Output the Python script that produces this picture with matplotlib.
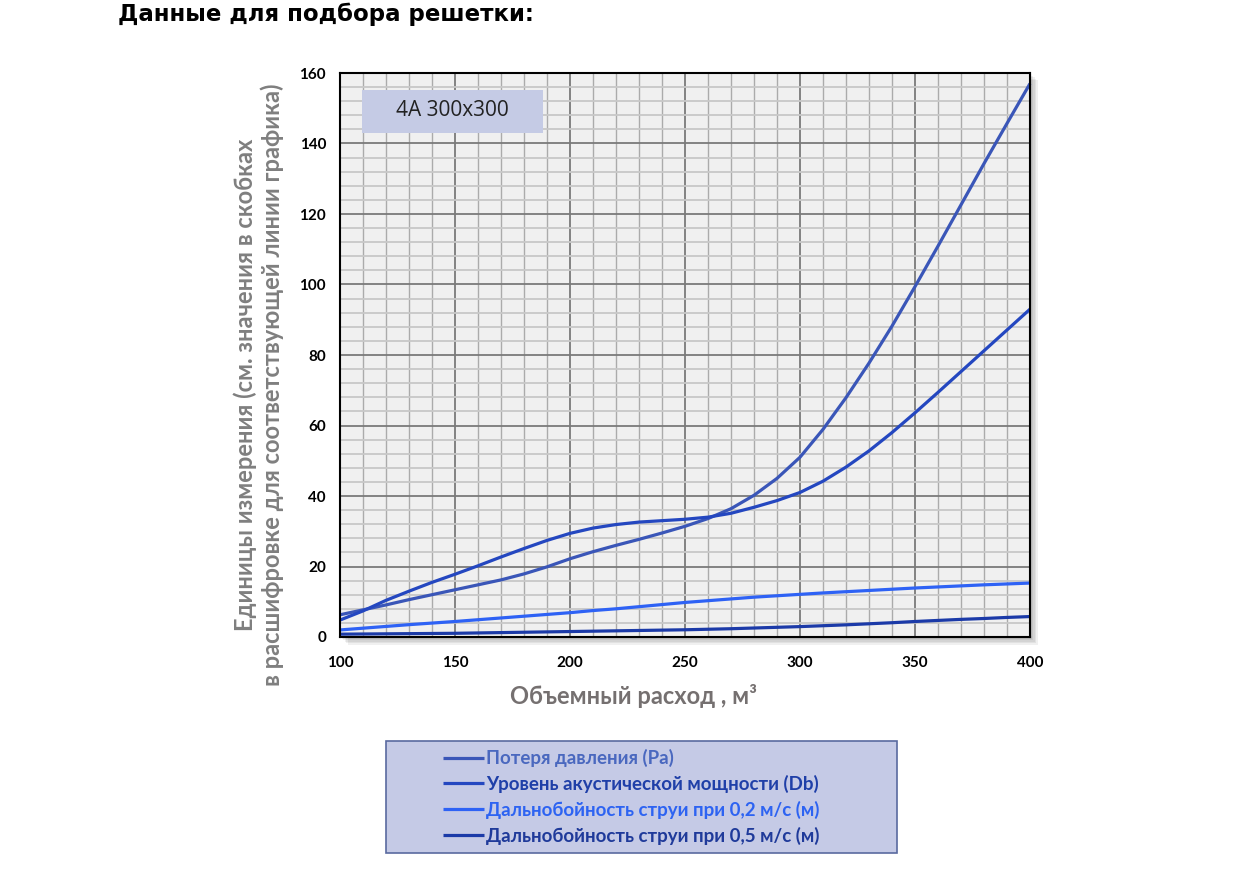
import matplotlib.pyplot as plt
from matplotlib.patches import Rectangle
from matplotlib.ticker import MultipleLocator

# Объемный расход (ось X)
flow = [100, 110, 120, 130, 140, 150, 160, 170, 180, 190, 200,
        210, 220, 230, 240, 250, 260, 270, 280, 290, 300,
        310, 320, 330, 340, 350, 360, 370, 380, 390, 400]

# Значения кривых
pressure = [6.3, 7.7, 9.1, 10.6, 12.0, 13.4, 14.8, 16.2, 17.9, 19.9, 22.2,
            24.2, 26.0, 27.7, 29.5, 31.4, 33.6, 36.4, 40.2, 45.0, 51.0,
            58.9, 67.9, 77.7, 88.2, 99.4, 110.9, 122.6, 134.3, 145.7, 157.0]
acoustic = [4.8, 7.4, 10.4, 13.0, 15.5, 17.8, 20.2, 22.7, 25.1, 27.4, 29.4,
            30.9, 31.9, 32.6, 33.0, 33.4, 34.0, 35.1, 36.8, 38.7, 41.0,
            44.2, 48.2, 52.8, 58.0, 63.6, 69.4, 75.3, 81.2, 87.1, 93.0]
throw_02 = [2.0, 2.5, 3.0, 3.5, 3.95, 4.4, 4.9, 5.4, 5.9, 6.4, 6.9,
            7.5, 8.0, 8.6, 9.2, 9.8, 10.3, 10.8, 11.3, 11.7, 12.1,
            12.5, 12.85, 13.2, 13.55, 13.9, 14.2, 14.5, 14.8, 15.05, 15.3]
throw_05 = [0.8, 0.85, 0.9, 0.95, 1.0, 1.05, 1.15, 1.25, 1.35, 1.45, 1.55,
            1.65, 1.75, 1.85, 1.95, 2.05, 2.2, 2.35, 2.55, 2.75, 2.95,
            3.2, 3.45, 3.75, 4.05, 4.4, 4.7, 5.0, 5.25, 5.55, 5.8]

labels = ['Потеря давления (Pa)',
          'Уровень акустической мощности (Db)',
          'Дальнобойность струи при 0,2 м/с (м)',
          'Дальнобойность струи при 0,5 м/с (м)']
line_colors = ['#3a56b8', '#2447c0', '#2e62f5', '#1b3aa8']
text_colors = ['#4a68bf', '#1f3fa8', '#2d63f2', '#1f3a9a']

plt.rcParams['font.family'] = ['Lato', 'DejaVu Sans']

fig = plt.figure(figsize=(12.41, 8.96), dpi=100)
fig.patch.set_facecolor('white')

W, H = 1241, 896
left, right, top, bottom = 340, 1030, 73, 637
ax = fig.add_axes([left / W, 1 - bottom / H, (right - left) / W, (bottom - top) / H])
ax.set_zorder(2)

# Тень под областью графика
for i in range(5):
    d = (i + 1) * 1.5
    fig.patches.append(Rectangle(((left + d) / W, 1 - (bottom + d) / H),
                                 (right - left) / W, (bottom - top) / H,
                                 transform=fig.transFigure, facecolor='black',
                                 alpha=0.06, edgecolor='none', zorder=-1))

ax.set_facecolor('#f0f0f0')
ax.set_xlim(100, 400)
ax.set_ylim(0, 160)
ax.xaxis.set_major_locator(MultipleLocator(50))
ax.xaxis.set_minor_locator(MultipleLocator(10))
ax.yaxis.set_major_locator(MultipleLocator(20))
ax.yaxis.set_minor_locator(MultipleLocator(4))
ax.grid(which='major', color='#7a7a7a', linewidth=1.3)
ax.grid(which='minor', axis='x', color='#ababab', linewidth=1.0)
ax.grid(which='minor', axis='y', color='#c8c8c8', linewidth=1.3)
ax.set_axisbelow(True)
ax.tick_params(which='both', length=0)
ax.tick_params(axis='x', pad=14)
ax.tick_params(axis='y', pad=10)
for lab in ax.get_xticklabels() + ax.get_yticklabels():
    lab.set_fontweight('bold')
    lab.set_fontsize(11)
for sp in ax.spines.values():
    sp.set_color('black')
    sp.set_linewidth(1.5)

series = [pressure, acoustic, throw_02, throw_05]
handles = []
for vals, lbl, col in zip(series, labels, line_colors):
    h, = ax.plot(flow, vals, color=col, linewidth=2.3, label=lbl, clip_on=False,
                 solid_capstyle='butt', solid_joinstyle='round')
    handles.append(h)

# Подпись модели решетки
ax.add_patch(Rectangle((0.032, 0.894), 0.262, 0.076, transform=ax.transAxes,
                       facecolor='#c5cbe5', edgecolor='none', zorder=3))
ax.text(0.163, 0.933, '4A 300x300', transform=ax.transAxes, fontsize=15,
        family=['Open Sans', 'DejaVu Sans'], color='#222222', ha='center',
        va='center', zorder=4)

ax.set_xlabel('Объемный расход , м³', fontsize=17, fontweight='bold',
              color='#757070')
ax.xaxis.set_label_coords(0.425, -0.083)
ax.set_ylabel('Единицы измерения (см. значения в скобках\n'
              'в расшифровке для соответствующей линии графика)',
              fontsize=17, fontweight='bold', color='#7f7f7f',
              linespacing=1.2)
ax.yaxis.set_label_coords(-0.081, 0.447)

# Рамка легенды
fig.patches.append(Rectangle((386 / W, 1 - 853 / H), 511 / W, 112 / H,
                             transform=fig.transFigure, facecolor='#c5cae6',
                             edgecolor='#5a6aa0', linewidth=1.2, zorder=1))
leg = fig.legend(handles=handles, loc='center left',
                 bbox_to_anchor=(443 / W, 1 - 797 / H), frameon=False,
                 fontsize=13.5, handlelength=2.2, handletextpad=0.1,
                 borderpad=0, labelspacing=0.42, borderaxespad=0)
leg.set_zorder(3)
for txt, col in zip(leg.get_texts(), text_colors):
    txt.set_color(col)
    txt.set_fontweight('bold')

fig.text(118 / W, 1 - 14 / H, 'Данные для подбора решетки:', fontsize=16.5,
         fontweight='bold', family=['DejaVu Sans'],
         color='black', ha='left', va='center')

fig.savefig('out.png', dpi=100)
